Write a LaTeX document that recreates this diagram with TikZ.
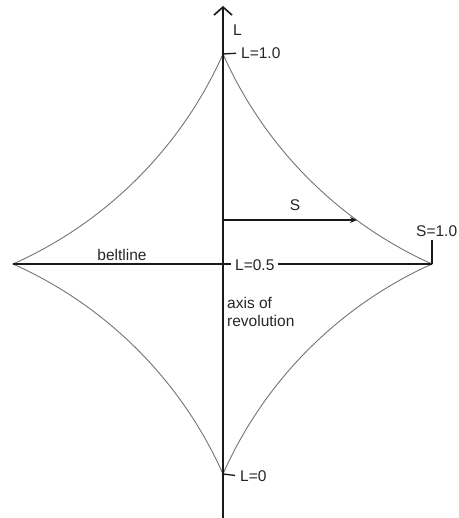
\documentclass[tikz,border=0pt]{standalone}
\usepackage{fontspec}
\setmainfont{Liberation Sans}
\usetikzlibrary{arrows.meta}
\begin{document}
\begin{tikzpicture}[x=1pt,y=-1pt,
  curve/.style={draw=black!55, line width=0.9pt},
  axisline/.style={draw=black!90, line width=1.8pt},
  thinline/.style={draw=black!90, line width=1.3pt},
  lbl/.style={font=\fontsize{15.5}{18}\selectfont, text=black!85, inner sep=0pt},
  ]
\useasboundingbox (0,0) rectangle (458,518);
\coordinate (top) at (223,54);
\coordinate (bot) at (223,474);
\coordinate (left) at (13,264);
\coordinate (right) at (432,264);
\coordinate (mid) at (223,264);
\coordinate (abot) at (223,518);
\coordinate (atop) at (223,6);
\coordinate (rtick) at (432,240);
\coordinate (sbase) at (223,220);
\coordinate (stip) at (357,220);

% curved outline
\draw[curve] (top) to[bend right=21, looseness=0.88] (right)
  to[bend right=21, looseness=0.88] (bot)
  to[bend right=21, looseness=0.88] (left)
  to[bend right=21, looseness=0.88] (top);

% beltline
\draw[thinline] (left) -- (right);
\draw[thinline] (right) -- (rtick);

% axis
\draw[axisline, -{Straight Barb[length=8pt,width=18pt,line width=1.6pt]}] (abot) -- (atop);

% S arrow
\draw[thinline, -{Stealth[length=7pt,width=6pt]}] (sbase) -- (stip);

% labels
\node[lbl, anchor=west] (Llab) at (233,30) {L};
\node[lbl, anchor=west] (L1) at (241,53) {L=1.0};
\node[lbl, anchor=west, fill=white, inner xsep=4pt, inner ysep=1pt] (L05) at (231,265) {L=0.5};
\node[lbl, anchor=west] (L0) at (240,476) {L=0};
\node[lbl, anchor=west] (S1) at (416,231) {S=1.0};
\node[lbl] (Slab) at (295,205) {S};
\node[lbl, anchor=south] (belt) at (122,261) {beltline};
\node[lbl, anchor=north west, align=left] (axis) at (227,297) {axis of\\revolution};

% ticks
\draw[thinline, shorten >=5pt] (top) -- (L1.west);
\draw[thinline, shorten >=5pt] (bot) -- (L0.west);
\end{tikzpicture}
\end{document}
